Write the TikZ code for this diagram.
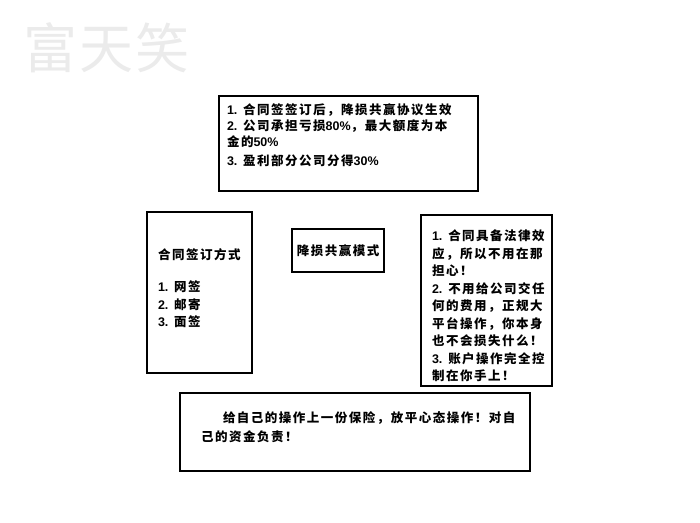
\documentclass[tikz,border=0pt]{standalone}
\usepackage{fontspec}
\usepackage{tikz}
\usetikzlibrary{positioning}
\newfontfamily\cjk[LetterSpace=12]{Noto Sans CJK SC}
\newfontfamily\cjkmark[LetterSpace=4]{Noto Sans CJK SC}
\newfontfamily\latn{Liberation Sans}
\newcommand{\dg}[1]{{\latn\bfseries #1}}

\begin{document}
\begin{tikzpicture}[x=1pt, y=-1pt,
boxnode/.style={rectangle, draw=black, line width=1.8pt, anchor=north west, inner sep=0pt, outer sep=0pt},
textnode/.style={font=\cjk\bfseries\fontsize{12.5}{16}\selectfont, align=left, inner sep=0pt, outer sep=0pt},
marknode/.style={font=\cjkmark\fontsize{54}{60}\selectfont, text=black!8, inner sep=0pt},
]
\useasboundingbox (0,0) rectangle (700,522);
%Watermark
\node[marknode] (Mark) at (106.5,47.5) {富天笑};
%Boxes
\node[boxnode, minimum width=259pt, minimum height=95pt] (Agree) at (219,96) {};
\node[boxnode, minimum width=105pt, minimum height=161pt] (Sign) at (147,212) {};
\node[boxnode, textnode, minimum width=92pt, minimum height=43pt, anchor=north west] (Mode) at (292,229) {降损共赢模式};
\node[boxnode, minimum width=131pt, minimum height=171pt] (Safe) at (421,215) {};
\node[boxnode, minimum width=350pt, minimum height=78pt] (Self) at (180,393) {};
%Texts
\node[textnode] (AgreeT) [below right=8pt and 8pt of Agree.north west] {\dg{1.} 合同签签订后，降损共赢协议生效\\\dg{2.} 公司承担亏损\dg{80\%}，最大额度为本\\金的\dg{50\%}\\[3pt]\dg{3.} 盈利部分公司分得\dg{30\%}};
\node[textnode, font=\cjk\bfseries\fontsize{12.5}{17.5}\selectfont] (SignT) [below right=37pt and 11pt of Sign.north west] {合同签订方式\\[14.5pt]\dg{1.} 网签\\\dg{2.} 邮寄\\\dg{3.} 面签};
%\node[textnode] (ModeT) at (Mode) {};
\node[textnode, font=\cjk\bfseries\fontsize{12.5}{17.5}\selectfont] (SafeT) [below right=15pt and 11pt of Safe.north west] {\dg{1.} 合同具备法律效\\应，所以不用在那\\担心！\\\dg{2.} 不用给公司交任\\何的费用，正规大\\平台操作，你本身\\也不会损失什么！\\\dg{3.} 账户操作完全控\\制在你手上！};
\node[textnode, font=\cjk\bfseries\fontsize{12.5}{19}\selectfont] (SelfT) [below right=19pt and 21pt of Self.north west] {\hspace*{22pt}给自己的操作上一份保险，放平心态操作！对自\\己的资金负责！};
\end{tikzpicture}
\end{document}
